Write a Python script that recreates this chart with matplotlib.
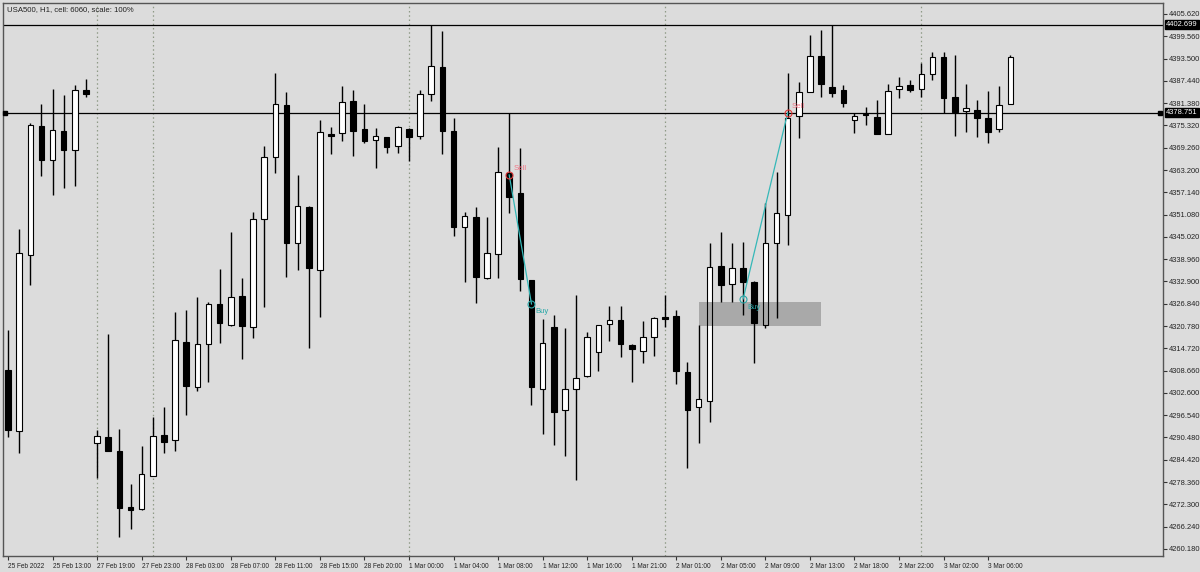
import matplotlib
matplotlib.use("Agg")
import matplotlib.pyplot as plt
import matplotlib.transforms as mtransforms
from matplotlib.patches import Rectangle
import numpy as np

plt.rcParams['font.family'] = ['Liberation Sans', 'DejaVu Sans']

# hourly OHLC, USA500 H1 (25 Feb 2022 -> 3 Mar 2022)
opens = [4308.83, 4292.25, 4340.10, 4375.17, 4365.93, 4373.81, 4368.65, 4384.96, 4288.98, 4290.61,
         4286.81, 4271.58, 4271.04, 4280.01, 4291.16, 4289.80, 4316.44, 4304.21, 4315.90, 4326.78,
         4321.07, 4328.95, 4320.52, 4349.89, 4366.74, 4380.88, 4343.36, 4353.15, 4336.02, 4373.00,
         4373.27, 4381.97, 4374.36, 4371.37, 4372.18, 4369.73, 4374.36, 4372.45, 4383.87, 4391.21,
         4373.81, 4347.71, 4350.43, 4333.84, 4340.37, 4362.39, 4356.96, 4333.30, 4303.66, 4320.52,
         4297.96, 4303.66, 4307.20, 4313.72, 4321.34, 4322.43, 4315.63, 4314.00, 4317.80, 4323.24,
         4323.51, 4308.29, 4298.77, 4300.40, 4337.11, 4332.21, 4336.56, 4332.76, 4321.07, 4343.36,
         4350.97, 4377.89, 4384.42, 4394.20, 4385.78, 4384.96, 4376.80, 4378.43, 4377.62, 4373.00,
         4385.23, 4386.32, 4385.23, 4389.31, 4393.93, 4383.06, 4379.25, 4379.52, 4377.35, 4374.36,
         4381.15]
highs = [4319.71, 4347.17, 4375.99, 4381.15, 4385.23, 4383.60, 4386.32, 4387.95, 4292.52, 4318.62,
         4292.79, 4277.84, 4288.17, 4296.05, 4298.77, 4324.60, 4325.14, 4328.68, 4327.32, 4336.29,
         4346.35, 4333.84, 4351.79, 4369.73, 4389.58, 4384.42, 4361.85, 4353.42, 4376.80, 4374.90,
         4386.05, 4384.96, 4381.15, 4374.63, 4372.18, 4375.17, 4374.63, 4384.96, 4402.63, 4401.00,
         4377.35, 4351.79, 4353.15, 4350.43, 4369.46, 4378.71, 4369.19, 4333.30, 4322.70, 4323.78,
         4320.25, 4329.22, 4319.16, 4321.07, 4326.23, 4326.23, 4315.90, 4322.15, 4323.24, 4329.22,
         4325.14, 4311.01, 4321.07, 4343.36, 4346.35, 4343.36, 4343.63, 4333.03, 4354.24, 4362.66,
         4389.58, 4387.13, 4399.91, 4401.27, 4402.63, 4386.32, 4378.71, 4380.34, 4382.24, 4386.59,
         4388.49, 4387.68, 4392.30, 4395.29, 4395.29, 4394.48, 4386.59, 4382.24, 4384.69, 4386.05,
         4394.48]
lows = [4290.61, 4286.26, 4331.94, 4361.58, 4356.41, 4358.31, 4358.86, 4383.06, 4279.47, 4286.81,
        4263.43, 4265.60, 4270.77, 4280.01, 4286.26, 4286.81, 4296.60, 4303.12, 4305.57, 4316.17,
        4320.79, 4311.82, 4317.53, 4325.96, 4362.39, 4334.12, 4336.02, 4314.81, 4323.24, 4367.56,
        4371.09, 4367.02, 4370.55, 4363.75, 4367.83, 4367.83, 4365.66, 4371.64, 4381.97, 4367.56,
        4345.26, 4332.76, 4327.05, 4333.57, 4333.84, 4351.52, 4330.31, 4299.31, 4291.43, 4288.44,
        4285.45, 4278.92, 4306.93, 4308.56, 4316.72, 4312.37, 4305.57, 4310.73, 4312.64, 4320.52,
        4305.02, 4282.19, 4288.98, 4294.69, 4327.32, 4327.32, 4323.78, 4310.73, 4320.25, 4322.97,
        4342.82, 4371.91, 4384.42, 4383.06, 4383.06, 4380.34, 4373.27, 4375.44, 4373.00, 4373.00,
        4382.78, 4384.42, 4383.06, 4387.68, 4378.71, 4372.45, 4373.54, 4372.18, 4370.55, 4373.54,
        4381.15]
closes = [4292.52, 4340.64, 4375.44, 4365.93, 4374.08, 4368.65, 4384.96, 4383.87, 4290.89, 4286.81,
          4271.31, 4270.77, 4280.55, 4290.89, 4289.25, 4316.99, 4304.48, 4315.90, 4326.78, 4321.61,
          4328.68, 4320.79, 4349.89, 4366.74, 4381.15, 4343.36, 4353.42, 4336.56, 4373.54, 4372.45,
          4381.70, 4373.81, 4371.09, 4372.45, 4369.46, 4374.90, 4372.18, 4383.87, 4391.49, 4373.81,
          4347.71, 4350.70, 4334.12, 4340.64, 4362.66, 4355.87, 4333.57, 4304.21, 4316.17, 4297.41,
          4303.66, 4306.66, 4317.80, 4321.07, 4322.43, 4315.90, 4314.54, 4317.80, 4322.97, 4322.70,
          4308.56, 4297.96, 4300.95, 4336.84, 4331.94, 4336.56, 4332.76, 4321.61, 4343.36, 4351.52,
          4377.35, 4384.42, 4394.20, 4386.59, 4384.14, 4381.43, 4377.89, 4378.16, 4373.00, 4384.69,
          4386.05, 4384.96, 4389.31, 4393.93, 4382.78, 4378.98, 4380.07, 4377.35, 4373.54, 4380.88,
          4393.93]

time_labels = ["25 Feb 2022", "25 Feb 13:00", "27 Feb 19:00", "27 Feb 23:00", "28 Feb 03:00",
               "28 Feb 07:00", "28 Feb 11:00", "28 Feb 15:00", "28 Feb 20:00", "1 Mar 00:00",
               "1 Mar 04:00", "1 Mar 08:00", "1 Mar 12:00", "1 Mar 16:00", "1 Mar 21:00",
               "2 Mar 01:00", "2 Mar 05:00", "2 Mar 09:00", "2 Mar 13:00", "2 Mar 18:00",
               "2 Mar 22:00", "3 Mar 02:00", "3 Mar 06:00"]
label_every = 4
day_start_bars = [8, 13, 36, 59, 82]

price_ticks = [4405.620, 4399.560, 4393.500, 4387.440, 4381.380, 4375.320, 4369.260, 4363.200,
               4357.140, 4351.080, 4345.020, 4338.960, 4332.900, 4326.840, 4320.780, 4314.720,
               4308.660, 4302.600, 4296.540, 4290.480, 4284.420, 4278.360, 4272.300, 4266.240,
               4260.180]

hline_prices = [4402.699, 4378.751]

# trades (bar index, price, side)
trade_bars = [45, 47, 66, 70]
trade_prices = [4361.85, 4326.78, 4328.13, 4378.71]
trade_sides = ["Sell", "Buy", "Buy", "Sell"]

# shaded zone
zone_bars = (62, 73)
zone_prices = (4320.79, 4327.32)

bg = '#dcdcdc'
fig = plt.figure(figsize=(12, 5.72), dpi=100, facecolor=bg)
ax = fig.add_axes([3 / 1200, 16 / 572, 1160 / 1200, 553 / 572])
ax.set_facecolor(bg)

o = np.array(opens)
h = np.array(highs)
l = np.array(lows)
c = np.array(closes)
x = np.arange(len(o))
bull = c >= o
top = np.maximum(o, c)
bot = np.minimum(o, c)
height = np.maximum(top - bot, 0.25)
w = 0.5

# white body fill below the zone box
ax.bar(x[bull], height[bull], bottom=bot[bull], width=w, color='white',
       edgecolor='none', zorder=2)
ax.add_patch(Rectangle((zone_bars[0], zone_prices[0]), zone_bars[1] - zone_bars[0],
                       zone_prices[1] - zone_prices[0], facecolor='#a9a9a9',
                       edgecolor='none', zorder=3))
ax.vlines(x, top, h, color='black', lw=1, zorder=4)
ax.vlines(x, l, bot, color='black', lw=1, zorder=4)
ax.bar(x[bull], height[bull], bottom=bot[bull], width=w, fill=False,
       edgecolor='black', lw=0.8, zorder=5)
ax.bar(x[~bull], height[~bull], bottom=bot[~bull], width=w, color='black',
       edgecolor='black', lw=0.8, zorder=5)

for d in day_start_bars:
    ax.axvline(d, color='#8e9a86', lw=0.9, linestyle=(0, (1.2, 2.2)), zorder=1)

blend = mtransforms.blended_transform_factory(ax.transAxes, ax.transData)
for p in hline_prices:
    ax.axhline(p, color='black', lw=0.9, zorder=1.5)
    ax.text(1.0025, p, f"{p:.3f}", transform=blend, fontsize=5.4, color='white',
            va='center', ha='left', zorder=10,
            bbox=dict(facecolor='black', edgecolor='black', pad=0.8))
ax.plot([0.002, 0.9975], [hline_prices[1]] * 2, 's', color='black', ms=2.2,
        transform=blend, clip_on=False, zorder=6)

# trade arrows
teal = '#35b8b8'
ax.plot(trade_bars[0:2], trade_prices[0:2], color=teal, lw=0.9, zorder=6)
ax.plot(trade_bars[2:4], trade_prices[2:4], color=teal, lw=0.9, zorder=6)
for b, p, s in zip(trade_bars, trade_prices, trade_sides):
    if s == "Sell":
        ax.plot(b, p, 'o', mfc='none', mec='#e03c3c', ms=5, mew=0.8, zorder=7)
        ax.annotate(s, (b, p), xytext=(4, 6), textcoords='offset pixels',
                    fontsize=5.6, color='#f07888', va='center', ha='left', zorder=8)
    else:
        ax.plot(b, p, 'o', mfc='none', mec='#2aa8a8', ms=5, mew=0.8, zorder=7)
        ax.annotate(s, (b, p), xytext=(4, -8), textcoords='offset pixels',
                    fontsize=5.6, color='#2aa8a8', va='center', ha='left', zorder=8)

ax.set_xlim(-0.45, 103.7)
ax.set_ylim(4258.26, 4408.61)

ax.set_xticks(x[::label_every][:len(time_labels)])
ax.set_xticklabels(time_labels, fontsize=4.7, color='#222222')
for t in ax.get_xticklabels():
    t.set_ha('left')
ax.tick_params(axis='x', length=3, width=0.8, pad=2, color='#333333')

ax.yaxis.tick_right()
ax.set_yticks(price_ticks)
ax.set_yticklabels([f"{p:.3f}" for p in price_ticks], fontsize=5.4, color='#222222')
ax.tick_params(axis='y', length=3, width=0.8, pad=1, color='#333333')

for side in ['left', 'top', 'right', 'bottom']:
    ax.spines[side].set_color('#555555')
    ax.spines[side].set_linewidth(1)

fig.text(7 / 1200, 1 - 10 / 572, "USA500, H1, cell: 6060, scale: 100%", fontsize=5.6,
         color='#222222', va='center', ha='left')

fig.savefig('out.png', dpi=100, facecolor=bg)
